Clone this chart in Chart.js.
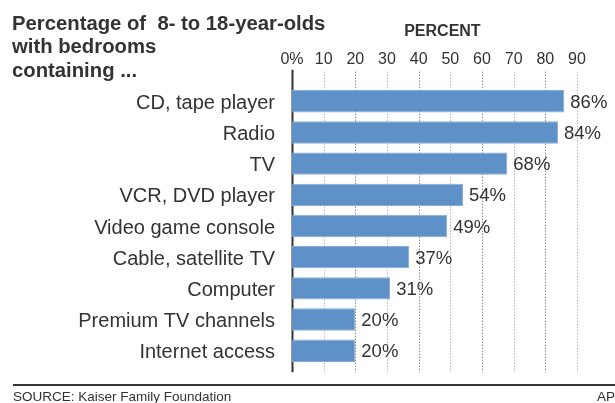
<!DOCTYPE html>
<html>
<head>
<meta charset="utf-8">
<script src="https://cdn.jsdelivr.net/npm/chart.js@4.4.1/dist/chart.umd.min.js"></script>
<style>
  html, body { margin: 0; padding: 0; background: #fff; }
  #wrap { position: relative; width: 615px; height: 403px; overflow: hidden; font-family: "Liberation Sans", Arial, sans-serif; color: #333; }
  #title { position: absolute; left: 12px; top: 11.5px; font-weight: bold; font-size: 20.3px; line-height: 23.6px; color: #333; white-space: nowrap; }
  #rule { position: absolute; left: 13px; right: 0; top: 384px; height: 2px; background: #333; }
  #source { position: absolute; left: 13px; top: 390px; font-size: 13.5px; line-height: 14px; color: #333; white-space: nowrap; }
  #credit { position: absolute; right: 0; top: 390px; font-size: 13.5px; line-height: 14px; color: #333; }
  canvas { position: absolute; left: 0; top: 0; }
</style>
</head>
<body>
<div id="wrap">
  <canvas id="c" width="615" height="403"></canvas>
  <div id="title">Percentage of&nbsp; 8- to 18-year-olds<br>with bedrooms<br>containing ...</div>
  <div id="rule"></div>
  <div id="source">SOURCE: Kaiser Family Foundation</div>
  <div id="credit">AP</div>
</div>
<script>
const categories = ["CD, tape player", "Radio", "TV", "VCR, DVD player", "Video game console", "Cable, satellite TV", "Computer", "Premium TV channels", "Internet access"];
const percentValues = [86, 84, 68, 54, 49, 37, 31, 20, 20];
const tickValues = [0, 10, 20, 30, 40, 50, 60, 70, 80, 90];
const axisTitle = "PERCENT";

const regular = "'Liberation Sans', Arial, sans-serif";

const gridPlugin = {
  id: 'customGrid',
  beforeDatasetsDraw(chart) {
    const ctx = chart.ctx, xs = chart.scales.x, area = chart.chartArea;
    ctx.save();
    tickValues.forEach(v => {
      const px = Math.round(xs.getPixelForValue(v)) + 0.5;
      ctx.beginPath();
      if (v === 0) {
        ctx.setLineDash([]);
        ctx.strokeStyle = '#333';
        ctx.lineWidth = 2;
        ctx.moveTo(px, area.top - 16);
        ctx.lineTo(px, area.bottom + 6);
      } else {
        ctx.setLineDash([1, 2]);
        ctx.strokeStyle = (v % 20 === 0) ? '#5a5a5a' : '#999';
        ctx.lineWidth = 1;
        ctx.moveTo(px, area.top - 14);
        ctx.lineTo(px, area.bottom + 6);
      }
      ctx.stroke();
    });
    ctx.restore();
  }
};

const valueLabelPlugin = {
  id: 'valueLabels',
  afterDatasetsDraw(chart) {
    const ctx = chart.ctx;
    const meta = chart.getDatasetMeta(0);
    ctx.save();
    ctx.font = "18.5px " + regular;
    ctx.fillStyle = '#333';
    ctx.textAlign = 'left';
    ctx.textBaseline = 'middle';
    meta.data.forEach((bar, i) => {
      ctx.fillText(percentValues[i] + '%', bar.x + 6, bar.y + 1.5);
    });
    ctx.restore();
  }
};

new Chart(document.getElementById('c'), {
  type: 'bar',
  data: {
    labels: categories,
    datasets: [{
      data: percentValues,
      backgroundColor: '#5e91c8',
      borderColor: '#86aad6',
      borderWidth: 1,
      borderSkipped: 'left',
      barPercentage: 0.92,
      categoryPercentage: 0.78
    }]
  },
  options: {
    indexAxis: 'y',
    responsive: false,
    devicePixelRatio: 1,
    animation: false,
    layout: { padding: { left: 0, right: 22.2, top: 0, bottom: 36.7 } },
    plugins: { legend: { display: false }, tooltip: { enabled: false } },
    scales: {
      x: {
        position: 'top',
        min: 0,
        max: 95,
        afterFit(scale) { scale.height = 85.7; },
        afterBuildTicks(scale) { scale.ticks = tickValues.map(v => ({ value: v })); },
        grid: { display: false, drawTicks: false, tickLength: 0 },
        border: { display: false },
        ticks: {
          padding: 17,
          maxRotation: 0,
          autoSkip: false,
          color: '#333',
          font: { family: regular, size: 16 },
          callback: v => v === 0 ? '0%' : String(v)
        },
        title: {
          display: true,
          text: axisTitle,
          color: '#333',
          font: { family: regular, size: 16, weight: 'bold' },
          padding: { top: 22, bottom: 0 }
        }
      },
      y: {
        afterFit(scale) { scale.width = 292; },
        grid: { display: false, drawTicks: false, tickLength: 0 },
        border: { display: false },
        ticks: {
          padding: 17,
          labelOffset: 2,
          color: '#333',
          font: { family: regular, size: 20 }
        }
      }
    }
  },
  plugins: [gridPlugin, valueLabelPlugin]
});
</script>
</body>
</html>
